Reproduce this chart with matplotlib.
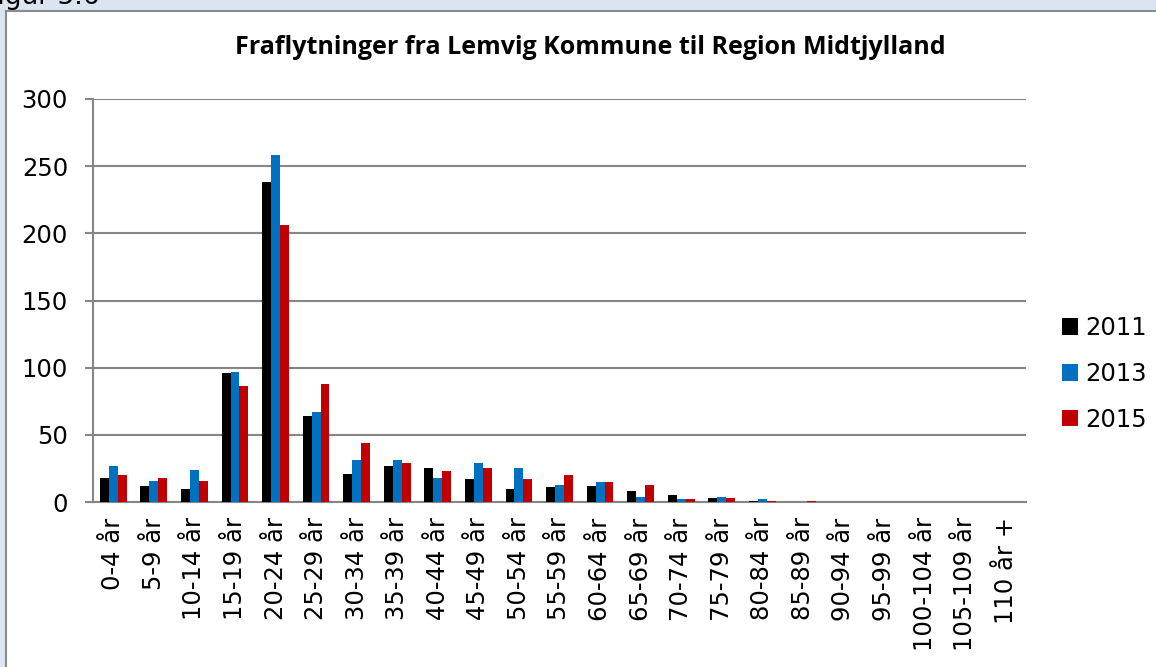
import numpy as np
import matplotlib.pyplot as plt
from matplotlib.patches import Rectangle

categories = ["0-4 år", "5-9 år", "10-14 år", "15-19 år", "20-24 år", "25-29 år",
              "30-34 år", "35-39 år", "40-44 år", "45-49 år", "50-54 år", "55-59 år",
              "60-64 år", "65-69 år", "70-74 år", "75-79 år", "80-84 år", "85-89 år",
              "90-94 år", "95-99 år", "100-104 år", "105-109 år", "110 år +"]
v2011 = [18, 12, 10, 96, 238, 64, 21, 27, 25, 17, 10, 11, 12, 8, 5, 3, 1, 0, 0, 0, 0, 0, 0]
v2013 = [27, 16, 24, 97, 258, 67, 31, 31, 18, 29, 25, 13, 15, 4, 2, 4, 2, 0, 0, 0, 0, 0, 0]
v2015 = [20, 18, 16, 86, 206, 88, 44, 29, 23, 25, 17, 20, 15, 13, 2, 3, 1, 1, 0, 0, 0, 0, 0]
years = ["2011", "2013", "2015"]
colors = ["#000000", "#0070c0", "#c00000"]

W, H = 1156, 667
fig = plt.figure(figsize=(W / 100, H / 100), dpi=100, facecolor="#dbe5f1")

# white chart frame, cut off at right and bottom
fig.patches.append(Rectangle((6 / W, -0.05), 1.1, 1 - 11 / H + 0.05, transform=fig.transFigure,
                             facecolor="white", edgecolor="#8c8c8c", linewidth=1.5, zorder=-5))
fig.text(-16 / W, 1 - 4 / H, "Figur 5.6", fontsize=19, va="baseline", ha="left")

ax = fig.add_axes([93 / W, 1 - 502 / H, (1026 - 93) / W, (502 - 99) / H])
ax.set_zorder(2)
ax.set_facecolor("white")
x = np.arange(len(categories))
bw = 0.22
for i, (vals, c, yr) in enumerate(zip([v2011, v2013, v2015], colors, years)):
    ax.bar(x + (i - 1) * bw, vals, width=bw, color=c, label=yr, zorder=3)

ax.set_xlim(-0.5, len(categories) - 0.5)
ax.set_ylim(0, 300)
ax.set_yticks(range(0, 301, 50))
ax.yaxis.grid(True, color="#868686", linewidth=1.5, zorder=0)
ax.set_xticks(x)
ax.set_xticklabels(categories, rotation=90, fontsize=17.5)
ax.tick_params(axis="y", labelsize=17.5, length=6, color="#868686", width=1.5, pad=12)
ax.tick_params(axis="x", length=0, pad=11)
for s in ["top", "right"]:
    ax.spines[s].set_visible(False)
for s in ["left", "bottom"]:
    ax.spines[s].set_color("#868686")
    ax.spines[s].set_linewidth(1.5)

fig.text(590 / W, 1 - 48 / H, "Fraflytninger fra Lemvig Kommune til Region Midtjylland",
         ha="center", va="center", fontsize=18, fontweight="bold", family="Open Sans")

ax.legend(loc="center left", bbox_to_anchor=(1052 / W, 1 - 374 / H), bbox_transform=fig.transFigure,
          frameon=False, fontsize=17.5, handlelength=0.65, handleheight=0.65, handletextpad=0.3,
          labelspacing=0.9, borderaxespad=0, borderpad=0.4)

fig.savefig("out.png", dpi=100, facecolor=fig.get_facecolor())
